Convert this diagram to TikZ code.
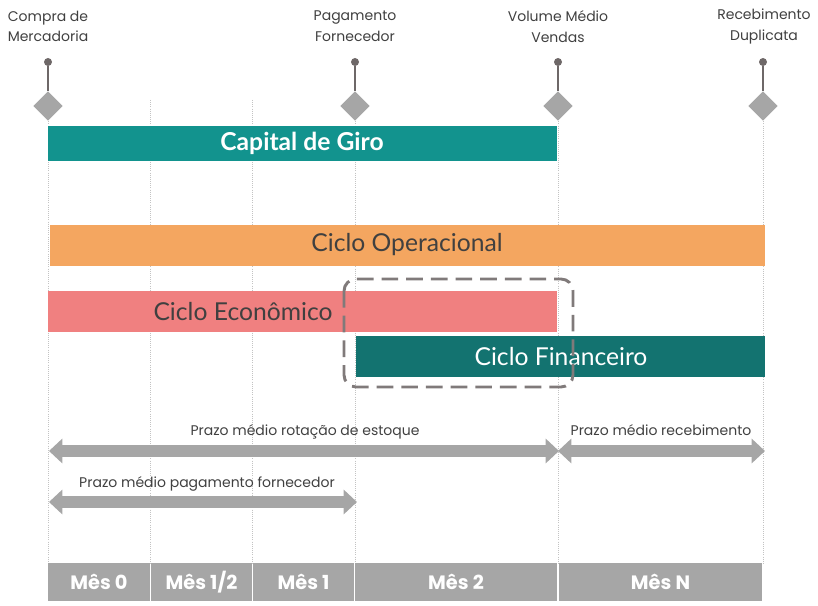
\documentclass[tikz,border=0pt]{standalone}
\usepackage{fontspec}
\setmainfont{Poppins}
\newfontfamily\barfont{Lato}
\usetikzlibrary{shapes.geometric,arrows.meta}
\definecolor{cTeal}{RGB}{18,147,142}
\definecolor{cDarkTeal}{RGB}{19,115,112}
\definecolor{cOrange}{RGB}{244,166,96}
\definecolor{cPink}{RGB}{240,128,128}
\definecolor{cGray}{RGB}{166,166,166}
\definecolor{cPin}{RGB}{110,104,104}
\definecolor{cText}{RGB}{64,64,64}
\definecolor{cDash}{RGB}{128,122,122}
\definecolor{cGrid}{RGB}{195,195,195}

\tikzset{
  toplabel/.style={align=center, text=cText, font=\fontsize{10.5}{15.5}\selectfont, inner sep=0pt},
  pinhead/.style={circle, fill=cPin, minimum size=6pt, inner sep=0pt},
  marker/.style={diamond, fill=cGray, minimum size=22pt, inner sep=0pt},
  gridline/.style={cGrid, densely dotted, line width=0.6pt},
  bartext/.style={font=\barfont\fontsize{18.5}{20}\selectfont, text=cText, inner sep=0pt},
  fatarrow/.style={cGray, line width=9pt, {Triangle[length=10pt,width=18pt]}-{Triangle[length=10pt,width=18pt]}},
  arrowtext/.style={font=\fontsize{10.5}{12}\selectfont, text=cText, inner sep=0pt},
  mestext/.style={font=\bfseries\fontsize{14.5}{16}\selectfont, text=white, inner sep=0pt},
}

\begin{document}
\begin{tikzpicture}[x=0.75pt, y=-0.75pt]
        \useasboundingbox (0,0) rectangle (818,606);

        % grid lines
        \draw[gridline] (48,100) -- (48,563);
        \draw[gridline] (150,100) -- (150,563);
        \draw[gridline] (252,100) -- (252,563);
        \draw[gridline] (355,100) -- (355,563);
        \draw[gridline] (558,100) -- (558,563);
        \draw[gridline] (763,100) -- (763,563);

        % milestones
        \node[toplabel] (compra) at (48,26.5) {Compra de\\Mercadoria};
        \node[pinhead] (pin1) at (48,62) {};
        \node[marker] (dia1) at (48,106) {};
        \draw[cPin, line width=1.6pt] (pin1) -- (dia1);

        \node[toplabel] (pagto) at (355,26.5) {Pagamento\\Fornecedor};
        \node[pinhead] (pin2) at (355,62) {};
        \node[marker] (dia2) at (355,106) {};
        \draw[cPin, line width=1.6pt] (pin2) -- (dia2);

        \node[toplabel] (volume) at (558,26.5) {Volume Médio\\Vendas};
        \node[pinhead] (pin3) at (558,62) {};
        \node[marker] (dia3) at (558,106) {};
        \draw[cPin, line width=1.6pt] (pin3) -- (dia3);

        \node[toplabel] (receb) at (764,26.5) {Recebimento\\Duplicata};
        \node[pinhead] (pin4) at (763,62) {};
        \node[marker] (dia4) at (763,106) {};
        \draw[cPin, line width=1.6pt] (pin4) -- (dia4);

        % bars
        \fill[cTeal] (48,126) rectangle (557,161);
        \node[bartext, text=white, font=\barfont\bfseries\fontsize{18.5}{20}\selectfont] (giro) at (302,143.5) {Capital de Giro};

        \fill[cOrange] (50,225) rectangle (765,266);
        \node[bartext] (operacional) at (407,245) {Ciclo Operacional};

        \fill[cPink] (48,291) rectangle (557,332);
        \node[bartext] (economico) at (243,312) {Ciclo Econômico};

        \fill[cDarkTeal] (356,336) rectangle (765,377);
        \node[bartext, text=white] (financeiro) at (561,357) {Ciclo Financeiro};

        \draw[cDash, line width=2.2pt, dash pattern=on 12.5pt off 6pt, rounded corners=9pt] (344,279) rectangle (573,387);

        % prazos
        \coordinate (est0) at (49,451);
        \coordinate (est1) at (559,451);
        \draw[fatarrow] (est0) -- (est1);
        \node[arrowtext] (estoque) at (305,432) {Prazo médio rotação de estoque};

        \coordinate (rec0) at (558,451);
        \coordinate (rec1) at (765,451);
        \draw[fatarrow] (rec0) -- (rec1);
        \node[arrowtext] (recebimento) at (661,430) {Prazo médio recebimento};

        \coordinate (for0) at (49,502);
        \coordinate (for1) at (357,502);
        \draw[fatarrow] (for0) -- (for1);
        \node[arrowtext] (fornecedor) at (207,484) {Prazo médio pagamento fornecedor};

        % months
        \fill[cGray] (48,563) rectangle (150,601);
        \node[mestext] (mes0) at (99,582) {Mês 0};
        \fill[cGray] (151,563) rectangle (252,601);
        \node[mestext] (mesmeio) at (201.5,582) {Mês 1/2};
        \fill[cGray] (253,563) rectangle (354,601);
        \node[mestext] (mes1) at (303.5,582) {Mês 1};
        \fill[cGray] (355,563) rectangle (557,601);
        \node[mestext] (mes2) at (456,582) {Mês 2};
        \fill[cGray] (559,563) rectangle (762,601);
        \node[mestext] (mesN) at (660.5,582) {Mês N};
\end{tikzpicture}
\end{document}
